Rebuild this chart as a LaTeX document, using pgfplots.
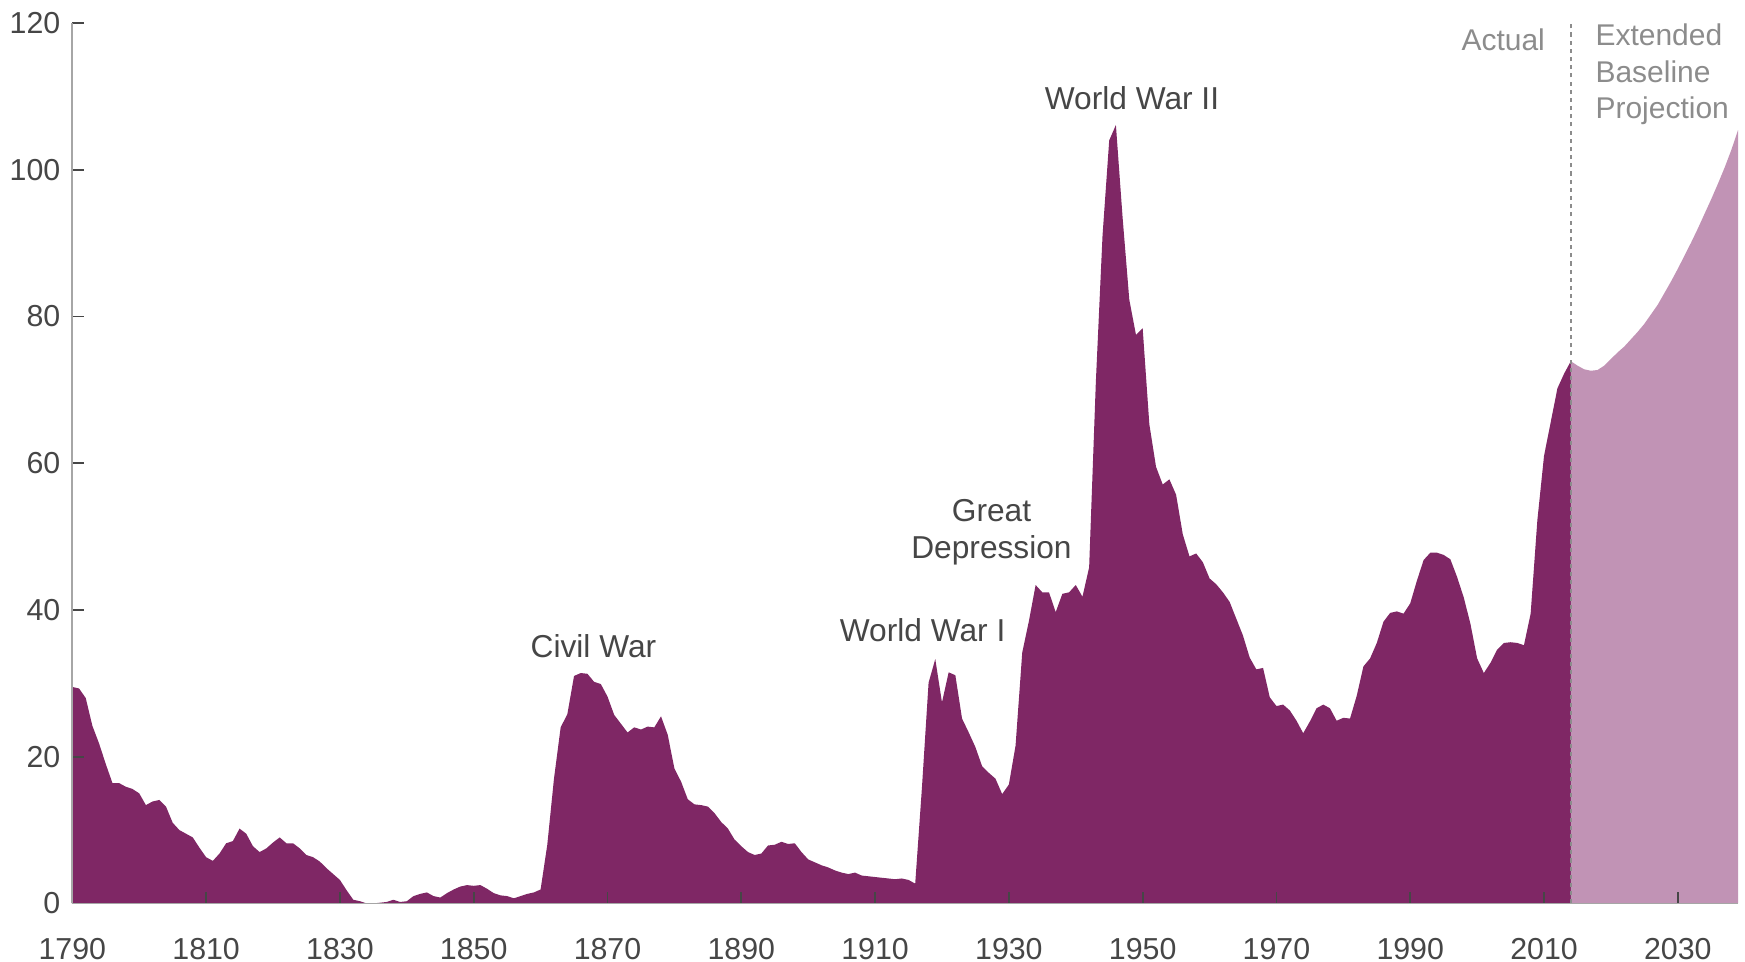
\documentclass[border=0pt]{standalone}
\usepackage{fontspec}
\setmainfont{Liberation Sans}
\usepackage{pgfplots}
\pgfplotsset{compat=1.18}

\definecolor{debtdark}{RGB}{127,39,101}
\definecolor{debtlight}{RGB}{193,147,181}
\definecolor{txtdark}{RGB}{70,70,70}
\definecolor{txtlight}{RGB}{140,140,140}

\begin{document}
\begin{tikzpicture}
\begin{axis}[
    name=ax,
    width=17.18cm, height=9.081cm,
    scale only axis,
    xmin=1790, xmax=2039,
    ymin=0, ymax=120,
    xtick={1790,1810,...,2030},
    ytick={0,20,...,120},
    axis x line=bottom, axis y line=left,
    axis line style={-, draw=gray!70, line width=0.5pt},
    tick align=inside,
    major tick length=1.2mm,
    tick style={draw=txtdark, line width=0.5pt},
    ticklabel style={font=\fontsize{8.9}{10.5}\selectfont, text=txtdark},
    /pgf/number format/assume math mode=true,
    /pgf/number format/1000 sep={},
    x tick label style={yshift=-6.8pt},
    axis on top,
    clip=false,
]

% debt held by the public, percentage of GDP (actual)
\addplot[fill=debtdark, draw=none] coordinates {
(1790,29.5) (1791,29.3) (1792,28.0) (1793,24.2) (1794,21.8) (1795,19.0) (1796,16.4) (1797,16.4) (1798,15.9) (1799,15.6)
(1800,15.0) (1801,13.4) (1802,13.9) (1803,14.1) (1804,13.2) (1805,11.0) (1806,10.0) (1807,9.5) (1808,9.0) (1809,7.6)
(1810,6.3) (1811,5.8) (1812,6.8) (1813,8.2) (1814,8.5) (1815,10.2) (1816,9.5) (1817,7.8) (1818,7.0) (1819,7.5)
(1820,8.3) (1821,9.0) (1822,8.2) (1823,8.2) (1824,7.5) (1825,6.6) (1826,6.3) (1827,5.7) (1828,4.8) (1829,4.0)
(1830,3.2) (1831,1.8) (1832,0.5) (1833,0.3) (1834,0.0) (1835,0.0) (1836,0.1) (1837,0.2) (1838,0.5) (1839,0.2)
(1840,0.3) (1841,1.0) (1842,1.3) (1843,1.5) (1844,1.0) (1845,0.8) (1846,1.4) (1847,1.9) (1848,2.3) (1849,2.5)
(1850,2.4) (1851,2.5) (1852,2.0) (1853,1.4) (1854,1.1) (1855,1.0) (1856,0.7) (1857,1.0) (1858,1.3) (1859,1.5)
(1860,1.9) (1861,8.0) (1862,17.0) (1863,24.0) (1864,25.8) (1865,31.0) (1866,31.4) (1867,31.3) (1868,30.2) (1869,29.9)
(1870,28.2) (1871,25.7) (1872,24.5) (1873,23.3) (1874,24.0) (1875,23.7) (1876,24.1) (1877,24.0) (1878,25.5) (1879,23.0)
(1880,18.4) (1881,16.6) (1882,14.2) (1883,13.5) (1884,13.4) (1885,13.2) (1886,12.3) (1887,11.1) (1888,10.2) (1889,8.7)
(1890,7.8) (1891,7.0) (1892,6.6) (1893,6.8) (1894,7.9) (1895,8.0) (1896,8.4) (1897,8.1) (1898,8.2) (1899,7.0)
(1900,6.0) (1901,5.6) (1902,5.2) (1903,4.9) (1904,4.5) (1905,4.2) (1906,4.0) (1907,4.2) (1908,3.8) (1909,3.7)
(1910,3.6) (1911,3.5) (1912,3.4) (1913,3.3) (1914,3.4) (1915,3.2) (1916,2.7) (1917,15.7) (1918,30.1) (1919,33.3)
(1920,27.4) (1921,31.5) (1922,31.1) (1923,25.2) (1924,23.3) (1925,21.3) (1926,18.7) (1927,17.8) (1928,17.0) (1929,14.9)
(1930,16.2) (1931,21.5) (1932,34.2) (1933,38.5) (1934,43.4) (1935,42.4) (1936,42.4) (1937,39.7) (1938,42.2) (1939,42.4)
(1940,43.4) (1941,41.8) (1942,45.8) (1943,71.0) (1944,91.0) (1945,104.0) (1946,106.1) (1947,93.5) (1948,82.3) (1949,77.5)
(1950,78.4) (1951,65.3) (1952,59.5) (1953,57.1) (1954,57.8) (1955,55.7) (1956,50.3) (1957,47.3) (1958,47.7) (1959,46.5)
(1960,44.3) (1961,43.5) (1962,42.4) (1963,41.1) (1964,38.8) (1965,36.5) (1966,33.5) (1967,31.9) (1968,32.1) (1969,28.1)
(1970,26.9) (1971,27.1) (1972,26.3) (1973,24.9) (1974,23.2) (1975,24.8) (1976,26.6) (1977,27.1) (1978,26.6) (1979,24.9)
(1980,25.3) (1981,25.2) (1982,28.3) (1983,32.3) (1984,33.4) (1985,35.5) (1986,38.4) (1987,39.6) (1988,39.8) (1989,39.5)
(1990,40.9) (1991,44.0) (1992,46.8) (1993,47.8) (1994,47.8) (1995,47.5) (1996,46.9) (1997,44.5) (1998,41.7) (1999,38.1)
(2000,33.4) (2001,31.4) (2002,32.8) (2003,34.6) (2004,35.5) (2005,35.6) (2006,35.5) (2007,35.2) (2008,39.5) (2009,52.2)
(2010,61.0) (2011,65.6) (2012,70.2) (2013,72.2) (2014,73.9)
} \closedcycle;

% extended baseline projection
\addplot[fill=debtlight, draw=none] coordinates {
(2014,73.9) (2015,73.3) (2016,72.8) (2017,72.6) (2018,72.7) (2019,73.3)
(2020,74.2) (2021,75.1) (2022,75.9) (2023,76.9) (2024,77.9) (2025,79.0) (2026,80.3) (2027,81.6) (2028,83.2) (2029,84.8)
(2030,86.5) (2031,88.3) (2032,90.1) (2033,92.0) (2034,94.0) (2035,96.0) (2036,98.1) (2037,100.3) (2038,102.7) (2039,105.4)
} \closedcycle;

\draw[txtlight, line width=0.5pt, dash pattern=on 1.2pt off 1.2pt] (axis cs:2014,0) -- (axis cs:2014,120);

\begin{scope}[every node/.style={font=\fontsize{9.3}{10.6}\selectfont, text=txtdark, inner sep=0pt}]
\node at (axis cs:1867.9,35.0) {Civil War};
\node at (axis cs:1917.1,37.3) {World War I};
\node[align=center, font=\fontsize{9.3}{11}\selectfont] at (axis cs:1927.4,50.6) {Great\\Depression};
\node at (axis cs:1948.4,109.7) {World War II};
\node[text=txtlight, font=\fontsize{8.8}{10.5}\selectfont] at (axis cs:2003.9,117.7) {Actual};
\node[text=txtlight, font=\fontsize{8.8}{10.6}\selectfont, align=left, anchor=west] at (axis cs:2017.6,113.0) {Extended\\Baseline\\Projection};
\end{scope}
\end{axis}
\pgfresetboundingbox
\path[use as bounding box] ([shift={(-0.746cm,-0.595cm)}]ax.south west) rectangle ([shift={(0.072cm,0.237cm)}]ax.north east);
\end{tikzpicture}
\end{document}
